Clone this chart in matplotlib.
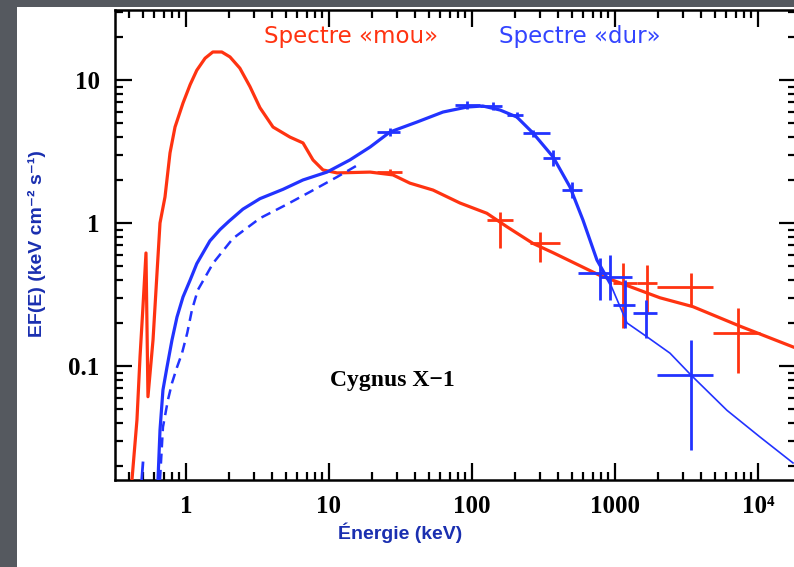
import numpy as np
import matplotlib
matplotlib.use('Agg')
import matplotlib.pyplot as plt
from matplotlib.patches import Rectangle
from matplotlib.ticker import LogLocator, NullFormatter, FixedLocator, FixedFormatter

# soft state spectrum (red), keV / keV cm-2 s-1
soft_E = [0.419, 0.454, 0.477, 0.500, 0.525, 0.542, 0.588, 0.627, 0.658, 0.713, 0.773,
          0.838, 0.953, 1.07, 1.19, 1.36, 1.54, 1.78, 2.03, 2.38, 2.80, 3.29, 4.06, 5.33,
          6.58, 7.73, 9.08, 11.4, 19.4, 28.0, 36.8, 53.4, 82.4, 127, 176, 267, 369, 785,
          2065, 3510, 7480, 17580]
soft_F = [0.016, 0.042, 0.116, 0.259, 0.617, 0.061, 0.152, 0.447, 1.0, 1.52, 3.09,
          4.69, 6.90, 9.3, 11.7, 14.2, 15.7, 15.7, 14.5, 12.1, 9.0, 6.4, 4.69, 3.99,
          3.63, 2.76, 2.35, 2.24, 2.27, 2.17, 1.90, 1.70, 1.38, 1.17, 0.94, 0.72, 0.62, 0.43,
          0.30, 0.26, 0.19, 0.136]

# hard state spectrum (blue, solid)
hard_E = [0.637, 0.658, 0.690, 0.736, 0.798, 0.865, 0.953, 1.07, 1.19, 1.47, 1.73, 2.0,
          2.50, 3.29, 4.77, 6.58, 9.68, 14.0, 19.4, 26.7, 41.2, 62.7, 92.3, 119, 157, 206,
          267, 369, 484, 597, 748, 923]
hard_F = [0.016, 0.0357, 0.068, 0.098, 0.152, 0.220, 0.304, 0.40, 0.52, 0.75, 0.90, 1.03,
          1.25, 1.48, 1.72, 2.00, 2.27, 2.76, 3.40, 4.33, 5.08, 5.97, 6.47, 6.58, 6.17, 5.51,
          4.26, 2.90, 1.79, 1.05, 0.551, 0.38]
# thin high-energy tail of the hard model
tail_E = [923, 1214, 1675, 2425, 3400, 6070, 10330, 17580]
tail_F = [0.38, 0.20, 0.160, 0.123, 0.0865, 0.049, 0.0319, 0.021]
frag_E = [0.49, 0.50]
frag_F = [0.016, 0.021]

# hard state, dashed model
dash_E = [0.658, 0.690, 0.748, 0.798, 0.865, 0.938, 1.02, 1.10, 1.21, 1.55, 2.13,
          3.29, 5.08, 7.36, 11.4, 16.5]
dash_F = [0.016, 0.0374, 0.058, 0.076, 0.098, 0.123, 0.170, 0.246, 0.34, 0.525, 0.78,
          1.08, 1.35, 1.65, 2.10, 2.60]

# data points with error bars
hpt_E = [26.7, 92.3, 140, 206, 267, 369, 500, 785, 923, 1175, 1648, 3400]
hpt_F = [4.33, 6.69, 6.58, 5.69, 4.26, 2.85, 1.70, 0.45, 0.42, 0.267, 0.235, 0.0865]
hpt_Elo = [21.7, 76, 114, 176, 227, 314, 426, 551, 785, 968, 1336, 1967]
hpt_Ehi = [31.4, 114, 162, 227, 351, 412, 588, 923, 1315, 1380, 1967, 4840]
hpt_Flo = [4.06, 6.3, 6.2, 5.4, 4.0, 2.50, 1.50, 0.29, 0.29, 0.184, 0.157, 0.0259]
hpt_Fhi = [4.6, 7.1, 7.0, 6.0, 4.5, 3.24, 1.94, 0.57, 0.60, 0.40, 0.29, 0.152]

spt_E = [26.7, 157, 299, 1137, 1675, 3400, 7250]
spt_F = [2.27, 1.05, 0.72, 0.38, 0.38, 0.357, 0.170]
spt_Elo = [21.7, 127, 255, 968, 1425, 1967, 4840]
spt_Ehi = [32.4, 194, 412, 1425, 1967, 4840, 10330]
spt_Flo = [2.15, 0.67, 0.534, 0.184, 0.239, 0.263, 0.089]
spt_Fhi = [2.4, 1.19, 0.865, 0.525, 0.508, 0.447, 0.255]

xticks = [1, 10, 100, 1000, 1e4]
xticklabels = ['1', '10', '100', '1000', '10⁴']
yticks = [0.1, 1, 10]
yticklabels = ['0.1', '1', '10']

red = '#ff3311'
blue = '#2233ff'
navy = '#1a2fb0'
serif = ['Liberation Serif', 'DejaVu Serif']

fig = plt.figure(figsize=(7.94, 5.67), dpi=100)
fig.patch.set_facecolor('#55595f')
fig.patches.append(Rectangle((17/794, 0), 1, 1 - 7/567, transform=fig.transFigure,
                             facecolor='white', edgecolor='none', zorder=-10))

ax = fig.add_axes([115/794, 87/567, 681/794, 470/567])
ax.set_xscale('log')
ax.set_yscale('log')

def errs(c, lo, hi):
    c = np.array(c); return [c - np.array(lo), np.array(hi) - c]

ax.plot(soft_E, soft_F, color=red, lw=2.3, zorder=3)
ax.errorbar(spt_E, spt_F, xerr=errs(spt_E, spt_Elo, spt_Ehi), yerr=errs(spt_F, spt_Flo, spt_Fhi),
            fmt='none', ecolor=red, elinewidth=2, capsize=0, zorder=3)

ax.plot(hard_E, hard_F, color=blue, lw=2.3, zorder=4)
ax.plot(tail_E, tail_F, color=blue, lw=1.2, zorder=4)
ax.plot(frag_E, frag_F, color=blue, lw=2, zorder=4)
ax.plot(dash_E, dash_F, color=blue, lw=1.8, ls=(0, (4, 2.5)), zorder=4)
ax.errorbar(hpt_E, hpt_F, xerr=errs(hpt_E, hpt_Elo, hpt_Ehi), yerr=errs(hpt_F, hpt_Flo, hpt_Fhi),
            fmt='none', ecolor=blue, elinewidth=2, capsize=0, zorder=4)

ax.set_xlim(10**-0.4965, 10**4.266)
ax.set_ylim(10**-1.797, 10**1.4895)

ax.xaxis.set_major_locator(FixedLocator(xticks))
ax.xaxis.set_major_formatter(FixedFormatter(xticklabels))
ax.yaxis.set_major_locator(FixedLocator(yticks))
ax.yaxis.set_major_formatter(FixedFormatter(yticklabels))
ax.xaxis.set_minor_locator(LogLocator(base=10, subs=np.arange(2, 10), numticks=20))
ax.yaxis.set_minor_locator(LogLocator(base=10, subs=np.arange(2, 10), numticks=20))
ax.xaxis.set_minor_formatter(NullFormatter())
ax.yaxis.set_minor_formatter(NullFormatter())
ax.tick_params(which='both', direction='in', top=True, right=True, width=1.6, color='black')
ax.tick_params(which='major', length=12, pad=11)
ax.tick_params(which='minor', length=6)
for lab in ax.get_xticklabels() + ax.get_yticklabels():
    lab.set_family(serif)
    lab.set_fontweight('bold')
    lab.set_fontsize(18)
for sp in ax.spines.values():
    sp.set_linewidth(1.8)

ax.text(0.408, 0.211, 'Cygnus X−1', transform=ax.transAxes, ha='center', va='center',
        family=serif, fontweight='bold', fontsize=17)

fig.text(351/794, 1 - 37/567, 'Spectre «mou»', color=red, fontsize=16.5, ha='center', va='center')
fig.text(580/794, 1 - 37/567, 'Spectre «dur»', color='#3344ff', fontsize=16.5, ha='center', va='center')

fig.text(400/794, 1 - 533/567, 'Énergie (keV)', color=navy, fontsize=14, fontweight='bold',
         family=['Liberation Sans', 'DejaVu Sans'], ha='center', va='center')
fig.text(37/794, 1 - 244/567, 'EF(E) (keV cm⁻² s⁻¹)', color=navy, fontsize=14, fontweight='bold',
         family=['Liberation Sans', 'DejaVu Sans'], ha='center', va='center', rotation=90)

plt.savefig('out.png', dpi=100, facecolor=fig.get_facecolor())
